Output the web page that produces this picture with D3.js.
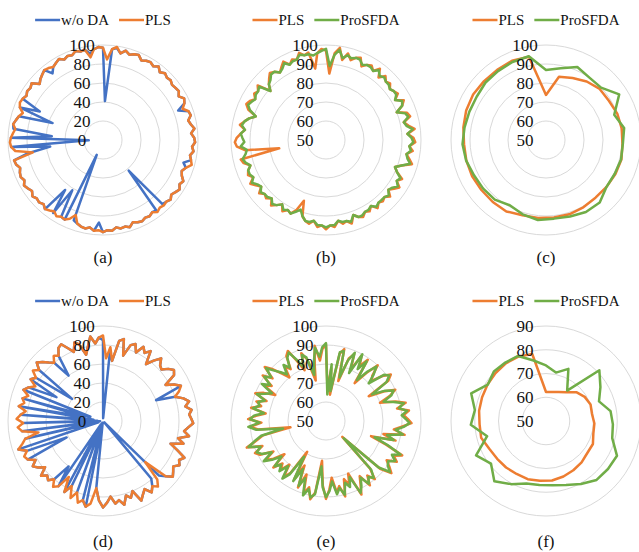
<!DOCTYPE html>
<html>
<head>
<meta charset="utf-8">
<script src="https://cdn.jsdelivr.net/npm/d3@7"></script>
<style>
body { margin: 0; background: #fff; }
</style>
</head>
<body>
<script>
// ---- data (per-class accuracy) ----
var plsA = [97, 85, 96, 99, 93, 97, 94, 96, 97, 93,
    95, 96, 94, 97, 93, 96, 94, 95, 93, 94,
    95, 92, 96, 94, 90, 95, 96, 92, 94, 97,
    93, 96, 97, 94, 96, 93, 95, 97, 92, 89,
    91, 95, 93, 96, 94, 92, 95, 93, 94, 93,
    95, 92, 94, 93, 95, 94, 92, 96, 94, 95,
    93, 96, 95, 97, 95, 96, 93, 95, 94, 92,
    84, 90, 93, 92, 94, 91, 93, 95, 92, 94,
    93, 95, 92, 94, 96, 93, 95, 94, 92, 95,
    96, 75, 93, 97, 98, 97, 95, 93, 96, 94,
    92, 89, 94, 96, 95, 93, 95, 94, 96, 89,
    92, 94, 96, 95, 93, 95, 97, 94, 96, 95,
    98, 96, 97, 88, 96, 98];
var proA = [98, 89, 95, 98, 94, 96, 95, 96, 96, 94,
    95, 95, 94, 96, 94, 95, 94, 94, 93, 94,
    94, 92, 95, 94, 90, 94, 95, 92, 93, 96,
    93, 95, 96, 94, 95, 93, 94, 96, 92, 89,
    91, 94, 93, 95, 93, 92, 94, 93, 93, 93,
    94, 92, 93, 93, 94, 94, 92, 95, 94, 94,
    93, 95, 95, 96, 95, 95, 93, 94, 94, 92,
    89, 91, 93, 92, 93, 91, 93, 94, 92, 93,
    93, 94, 92, 93, 95, 93, 94, 94, 92, 94,
    95, 93, 92, 95, 93, 94, 95, 93, 95, 94,
    92, 89, 93, 95, 94, 93, 94, 94, 95, 89,
    92, 93, 95, 95, 93, 94, 96, 94, 95, 95,
    97, 96, 96, 95, 96, 97];
var woA = [97, 41, 96, 98, 93, 97, 94, 96, 97, 93,
    95, 96, 94, 97, 93, 96, 94, 95, 93, 94,
    95, 92, 96, 94, 85, 95, 96, 92, 94, 97,
    93, 96, 97, 94, 96, 93, 95, 88, 92, 89,
    91, 95, 93, 96, 94, 92, 95, 93, 92, 42,
    93, 92, 94, 93, 95, 94, 92, 96, 94, 95,
    93, 96, 95, 97, 87, 96, 93, 95, 94, 92,
    90, 17, 93, 92, 62, 93, 66, 95, 92, 94,
    93, 95, 92, 94, 96, 93, 95, 94, 92, 95,
    96, 80, 56, 97, 15, 97, 54, 95, 96, 94,
    92, 56, 94, 73, 95, 93, 95, 94, 96, 89,
    92, 94, 96, 88, 93, 95, 97, 94, 96, 95,
    98, 96, 97, 92, 96, 98];

var plsC = [73.7, 84, 85.5, 87.5, 89, 89, 90, 90.3, 90.3, 91, 90.7, 90.3, 90, 90.5, 91, 91,
    91.2, 91.5, 93, 93, 93, 93.3, 93.3, 93.2, 94, 94.8, 95.2, 95, 95, 95.4, 94.7];
var proC = [86.8, 88.5, 91.8, 90, 90, 95.4, 88.3, 91.6, 90.5, 90.8, 90.3, 90.3, 93.4, 93.3, 92.2, 91.6,
    92.3, 91, 89.3, 91.4, 91.8, 92.2, 93.4, 94, 93.4, 93, 93, 93.9, 94.2, 94.7, 95];

var plsD = [90, 66, 78, 64, 86, 89, 72, 85, 88, 80,
    89, 84, 89, 75, 83, 90, 84, 82, 88, 92,
    89, 76, 84, 90, 86, 80, 88, 93, 88, 94,
    91, 93, 95, 90, 86, 92, 81, 88, 75, 84,
    94, 90, 93, 88, 91, 94, 88, 62, 84, 90,
    86, 91, 84, 88, 93, 80, 86, 82, 91, 85,
    88, 80, 86, 91, 84, 71, 88, 92, 86, 90,
    80, 88, 76, 85, 69, 83, 87, 80, 85, 82,
    87, 78, 84, 88, 82, 89, 91, 86, 94, 88,
    84, 69, 86, 90, 84, 91, 87, 82, 90, 85,
    88, 83, 90, 86, 80, 88, 84, 91, 86, 93,
    89, 84, 80, 86, 83, 90, 92, 85, 79, 88,
    84, 72, 80, 90, 82, 88];
var proD = [91, 64, 80, 66, 87, 88, 74, 84, 89, 78,
    90, 82, 88, 77, 84, 89, 85, 80, 89, 91,
    88, 78, 85, 89, 87, 82, 87, 92, 89, 93,
    90, 92, 94, 91, 87, 91, 83, 87, 77, 85,
    93, 89, 92, 89, 90, 93, 87, 63, 85, 89,
    87, 90, 85, 89, 92, 82, 87, 84, 90, 86,
    89, 82, 87, 90, 85, 74, 89, 91, 87, 91,
    82, 87, 78, 86, 72, 84, 88, 81, 86, 83,
    86, 80, 85, 89, 83, 88, 90, 87, 93, 89,
    85, 73, 87, 91, 85, 90, 88, 83, 89, 86,
    87, 84, 89, 85, 82, 89, 85, 90, 87, 92,
    88, 85, 82, 87, 84, 89, 91, 86, 81, 87,
    85, 75, 82, 89, 84, 89];
var woD = [85, 3, 73, 64, 86, 89, 72, 85, 88, 80,
    89, 84, 89, 75, 83, 90, 84, 82, 88, 92,
    89, 76, 84, 90, 60, 80, 88, 93, 88, 94,
    91, 93, 95, 90, 86, 92, 81, 88, 75, 84,
    94, 90, 93, 88, 91, 94, 88, 82, 2, 79,
    86, 91, 84, 88, 93, 80, 86, 82, 91, 85,
    88, 80, 86, 91, 84, 71, 3, 92, 86, 2,
    80, 5, 76, 85, 4, 83, 60, 80, 85, 82,
    87, 78, 84, 88, 82, 89, 42, 86, 94, 5,
    84, 8, 86, 3, 84, 6, 87, 10, 90, 20,
    88, 14, 90, 86, 55, 88, 84, 40, 86, 93,
    89, 84, 80, 60, 83, 90, 92, 85, 79, 88,
    84, 72, 80, 90, 82, 88];

var plsF = [62.2, 62.5, 63.3, 64.8, 67.6, 69.2, 70, 69.6, 70.4, 70.6, 72, 72, 73, 73.7, 74.5, 75.2,
    75.3, 75.7, 75.5, 75.8, 76, 76.6, 78.2, 78, 78.5, 78.7, 79, 79.3, 79.6, 79.5, 78.8];
var proF = [73.4, 70.8, 73.9, 65.6, 81, 77, 73.8, 77.5, 78.2, 78.8, 83.3, 83, 82.7, 80.3, 78.2, 77.2,
    77.1, 77.6, 80.4, 83.4, 79.3, 82.8, 75.6, 81.7, 80.3, 83.6, 78.9, 80.3, 80, 79.8, 76];

var ticks0 = [0, 20, 40, 60, 80, 100];
var ticks50 = [50, 60, 70, 80, 90, 100];
var ticksF = [50, 60, 70, 80, 90];
var captions = ["(a)", "(b)", "(c)", "(d)", "(e)", "(f)"];

var blue = "#4472C4", orange = "#ED7D31", green = "#70AD47";
var serif = "'Times New Roman', 'Liberation Serif', Times, serif";

var w = 639, h = 552, R = 95;
var svg = d3.select('body').append('svg')
    .attr("width", w)
    .attr("height", h)
    .style("font-family", serif);

var panels = [
    {cx: 103, cy: 140, ticks: ticks0, cap: 0, series: [["w/o DA", woA, blue], ["PLS", plsA, orange]]},
    {cx: 326, cy: 140, ticks: ticks50, cap: 1, series: [["PLS", plsA, orange], ["ProSFDA", proA, green]]},
    {cx: 546, cy: 140, ticks: ticks50, cap: 2, series: [["PLS", plsC, orange], ["ProSFDA", proC, green]]},
    {cx: 103, cy: 421, ticks: ticks0, cap: 3, series: [["w/o DA", woD, blue], ["PLS", plsD, orange]]},
    {cx: 326, cy: 421, ticks: ticks50, cap: 4, series: [["PLS", plsD, orange], ["ProSFDA", proD, green]]},
    {cx: 546, cy: 421, ticks: ticksF, cap: 5, series: [["PLS", plsF, orange], ["ProSFDA", proF, green]]}
];

panels.forEach(function(p) {
    var g = svg.append("g").attr("transform", "translate(" + p.cx + "," + p.cy + ")");
    var r = d3.scaleLinear()
        .domain([p.ticks[0], p.ticks[p.ticks.length - 1]])
        .range([0, R]);

    // rings
    g.selectAll("circle")
        .data(p.ticks.slice(1))
        .enter()
        .append("circle")
        .attr("r", function(d) { return r(d); })
        .attr("fill", "none")
        .attr("stroke", "#d9d9d9")
        .attr("stroke-width", 1);

    // series
    p.series.forEach(function(s) {
        var n = s[1].length;
        var ang = d3.scaleLinear().domain([0, n]).range([0, 2 * Math.PI]);
        var line = d3.lineRadial()
            .angle(function(d, i) { return ang(i); })
            .radius(function(d) { return r(d); })
            .curve(d3.curveLinearClosed);
        g.append("path")
            .attr("d", line(s[1]))
            .attr("fill", "none")
            .attr("stroke", s[2])
            .attr("stroke-width", 2.5)
            .attr("stroke-linejoin", "round");
    });

    // tick labels
    g.selectAll("text.tick")
        .data(p.ticks)
        .enter()
        .append("text")
        .attr("class", "tick")
        .attr("x", -21)
        .attr("y", function(d) { return -r(d); })
        .attr("dy", "0.35em")
        .attr("text-anchor", "middle")
        .attr("fill", "#111")
        .style("font-family", serif)
        .style("font-size", "17px")
        .text(function(d) { return d; });

    // legend
    var ly = p.cy < 300 ? 20 : 301;
    var lg = svg.append("g");
    var x = 0;
    p.series.forEach(function(s, k) {
        if (k > 0) x += 10;
        lg.append("line")
            .attr("x1", x).attr("x2", x + 25)
            .attr("y1", 0).attr("y2", 0)
            .attr("stroke", s[2])
            .attr("stroke-width", 2.5);
        x += 26;
        var t = lg.append("text")
            .attr("x", x)
            .attr("y", 0)
            .attr("dy", "0.35em")
            .attr("fill", "#111")
            .style("font-family", serif)
            .style("font-size", "15px")
            .text(s[0]);
        x += t.node().getComputedTextLength();
    });
    lg.attr("transform", "translate(" + (p.cx - x / 2) + "," + ly + ")");

    // caption
    svg.append("text")
        .attr("x", p.cx)
        .attr("y", p.cy < 300 ? 263 : 547)
        .attr("text-anchor", "middle")
        .attr("fill", "#111")
        .style("font-family", serif)
        .style("font-size", "17px")
        .text(captions[p.cap]);
});
</script>
</body>
</html>
